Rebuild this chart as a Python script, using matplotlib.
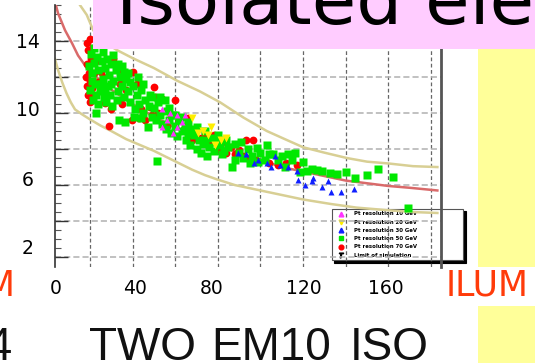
import numpy as np
import matplotlib.pyplot as plt
from matplotlib.lines import Line2D
from matplotlib.patches import Rectangle

# ---- data -------------------------------------------------------------
green_pts = [
    (20.5, 13.3), (22, 12.8), (21, 12.2), (23.5, 13.1), (24, 12.4), (22.5, 11.6), (20, 11.3),
    (25.5, 12.9), (26, 11.9), (24.5, 11.2), (27, 12.5), (28, 13.0), (21.5, 10.7), (23, 10.0),
    (26.5, 10.9), (28.5, 11.5), (29, 12.1), (30, 12.7), (25, 11.6), (27.5, 10.6), (19.5, 12.6),
    (22, 13.6), (29.5, 11.0), (31, 11.8), (32, 12.4), (30.5, 10.4), (33, 11.2), (34, 12.0),
    (32.5, 10.7), (35, 11.5), (36, 10.9), (33.5, 9.6), (36.5, 9.5), (37, 11.9), (38, 11.2),
    (39, 10.6), (40, 11.5), (41, 10.2), (42, 11.0), (43, 10.5), (44, 11.3), (45, 10.0),
    (46, 10.7), (47, 9.2), (47.5, 10.4), (48, 11.0), (49, 9.8), (50, 10.3), (51, 9.6),
    (52, 10.6), (53, 9.9), (54, 9.4), (55, 10.7), (55.5, 9.1), (56, 10.1), (57, 9.6),
    (58, 8.9), (59, 9.9), (60, 9.3), (61, 8.7), (62, 9.6), (63, 9.0), (64.5, 9.3), (65, 8.5),
    (66, 8.9), (67, 8.2), (68, 9.1), (69, 8.8), (70, 8.0), (71, 8.5), (72, 7.8), (73, 8.3),
    (74, 8.5), (75, 7.6), (76, 8.1), (78, 7.9), (79, 8.4), (81, 8.2), (82, 7.7), (83, 7.9),
    (84, 8.5), (86.5, 7.0), (88, 7.4), (90, 7.8), (92, 7.5), (94, 8.0), (96, 7.6), (98.5, 8.05),
    (100, 7.8), (102, 7.4), (104, 7.7), (106, 7.7), (108, 7.4), (111.5, 7.0), (115, 7.4),
    (118.5, 6.7), (121.8, 6.8), (124, 6.9), (126.5, 6.85), (129, 6.8), (132.6, 6.65),
    (136, 6.6), (140, 6.7), (144.5, 6.4), (150, 6.55), (155, 6.9), (162, 6.45), (51.5, 7.35),
    (31, 13.2), (26, 13.4), (23, 11.0), (35, 12.6), (38, 12.2), (40.5, 9.8), (44, 9.7),
    (42.5, 12.0), (21, 11.8), (24, 10.5), (27, 11.3), (30, 11.6), (33, 12.7), (36, 12.3),
    (39, 11.7), (45, 11.6), (49, 10.9), (53, 10.9), (57, 10.3), (60, 9.9), (63, 9.8),
    (66, 9.5), (70, 9.2), (74, 9.0), (77, 8.6), (80, 8.8), (85, 8.1), (88, 8.3), (91, 8.4),
    (95, 7.2), (99, 7.3), (103, 8.2), (110, 7.6), (113, 7.7), (116, 7.8), (120, 7.3),
    (169, 4.75),
]
red_pts = [
    (18.5, 13.9), (20, 14.1), (19, 13.5), (20.5, 13.0), (18.8, 12.7), (19.5, 12.2), (20, 11.8),
    (18.6, 11.5), (19.2, 11.0), (20.5, 10.9), (19.8, 10.6), (21, 11.4), (22, 12.2), (18.2, 12.0),
    (21.5, 13.6), (31, 13.0), (33, 12.4), (40, 12.3), (42, 11.6), (50, 11.45), (54, 10.8),
    (60, 10.7), (29, 9.3), (27, 10.55), (46, 9.6), (50.5, 10.9), (62, 9.6), (25, 12.3),
    (24, 11.7), (23, 12.9), (26, 12.0), (35, 11.8), (37, 11.3), (39.6, 9.6), (44, 10.2),
    (48, 10.35), (49, 9.9), (35, 10.5), (52, 10.0), (56, 9.3), (58, 9.9), (64, 9.1), (66, 9.7),
    (68, 8.5), (72, 8.6), (74, 8.9), (76, 8.4), (78, 8.8), (80, 8.0), (82, 8.4), (84, 7.8),
    (86, 8.1), (88, 7.7), (93, 8.5), (96.5, 8.5), (90, 7.95), (92, 7.6), (95, 7.5), (98, 7.4),
    (104, 7.2), (108, 7.1), (112, 7.2), (117, 7.1), (30, 10.2), (34, 11.6), (43, 9.7),
]
blue_pts = [
    (89.5, 7.8), (93, 7.7), (97, 7.2), (99, 7.4), (103, 7.2), (105, 7.0), (107, 7.6), (109, 7.1),
    (113, 7.0), (117, 6.8), (117.7, 6.3), (121, 6.0), (124, 6.2), (124.6, 6.4), (129, 5.9),
    (131.6, 6.2), (133, 5.6), (138, 5.6), (144, 5.8),
]
yellow_pts = [(68, 9.7), (70.7, 8.9), (73, 9.0), (75.5, 8.8), (78.7, 8.2), (81.5, 8.5),
              (84, 8.6), (77, 9.2)]
magenta_pts = [(54, 10.2), (53.7, 9.2), (56, 9.6), (57.5, 10.0), (59, 8.9), (60.8, 9.9),
               (63, 9.5), (64.6, 9.9), (61, 9.2)]

# fitted resolution curve and the two band edges
fit_x = [4, 5, 8.3, 11.5, 14.4, 16.8, 19, 25, 30, 40, 50, 60, 70, 80, 90, 100, 110, 120,
         130, 140, 150, 160, 170, 183]
fit_y = [16.0, 15.55, 14.6, 13.9, 13.2, 12.8, 12.4, 11.8, 11.3, 10.5, 9.8, 9.2, 8.7, 8.2,
         7.8, 7.4, 7.0, 6.75, 6.5, 6.25, 6.1, 5.95, 5.85, 5.7]
upper_x = [15.3, 18.5, 21.5, 26, 32.6, 40, 50, 60.8, 71.6, 81, 92, 103, 112.4, 120, 130,
           140.6, 150, 160, 171.5, 183]
upper_y = [16.0, 15.45, 14.6, 14.0, 13.5, 13.05, 12.5, 11.8, 11.2, 10.6, 9.75, 9.0, 8.5,
           8.1, 7.8, 7.5, 7.3, 7.2, 7.05, 7.0]
lower_x = [3.6, 5, 7, 9, 11, 13, 16, 20, 25, 30, 37, 44, 50, 56, 62, 68, 74, 80, 88, 96,
           104, 112, 120, 133, 145, 160, 172, 183]
lower_y = [13.0, 12.4, 11.7, 11.1, 10.6, 10.2, 9.95, 9.65, 9.3, 9.0, 8.55, 8.2, 7.9, 7.55,
           7.2, 6.85, 6.55, 6.3, 6.0, 5.8, 5.6, 5.4, 5.2, 4.95, 4.75, 4.6, 4.5, 4.45]

legend_labels = ['Pt resolution 10 GeV', 'Pt resolution 20 GeV', 'Pt resolution 30 GeV',
                 'Pt resolution 50 GeV', 'Pt resolution 70 GeV', 'Limit of simulation']

y_labels = ['14', '10', '6', '2']
x_labels = ['0', '40', '80', '120', '160']
caption_words = ['TWO', 'EM10', 'ISO']

# ---- figure ---------------------------------------------------------------
W, H = 535, 363
fig = plt.figure(figsize=(W / 100, H / 100), dpi=100)
fig.patch.set_facecolor('white')

def fx(px):
    return px / W

def fy(py):
    return 1 - py / H

ax = fig.add_axes([fx(55), fy(267), (441 - 55) / W, (267 - 5) / H])
ax.set_xlim(3.6, 184.7)
ax.set_ylim(1.45, 16.0)

ax.plot(upper_x, upper_y, color='#d8cf94', lw=1.8, zorder=2)
ax.plot(lower_x, lower_y, color='#d8cf94', lw=1.8, zorder=2)
ax.plot(fit_x, fit_y, color='#d96a6a', lw=1.8, zorder=2)

def pts(p):
    a = np.array(p)
    return a[:, 0], a[:, 1]

ax.plot(*pts(red_pts), 'o', color='#ff0000', ms=5.6, mec='none', zorder=3)
ax.plot(*pts(green_pts), 's', color='#00e800', ms=5.4, mec='none', zorder=3.1)
ax.plot(*pts(yellow_pts), 'v', color='#ffee00', ms=5.2, mec='none', zorder=3.2)
ax.plot(*pts(magenta_pts), '^', color='#ff33ff', ms=5.0, mec='none', zorder=3.2)
ax.plot(*pts(blue_pts), '^', color='#1020ff', ms=5.0, mec='none', zorder=3.3)

ax.set_xticks(np.arange(20, 181, 20))
ax.set_yticks(np.arange(2, 15, 2))
ax.set_yticks(np.arange(2, 16.01, 0.5), minor=True)
ax.tick_params(labelbottom=False, labelleft=False, bottom=False)
ax.tick_params(axis='y', which='major', direction='in', length=9, width=1, color='#333')
ax.tick_params(axis='y', which='minor', direction='in', length=4, width=0.8, color='#555')
ax.grid(axis='x', color='#666666', ls=(0, (3, 2)), lw=0.9)
ax.grid(axis='y', color='#b0b0b0', ls=(0, (4, 2)), lw=1.1)
for s in ('top', 'bottom'):
    ax.spines[s].set_visible(False)
ax.spines['left'].set_color('#333')
ax.spines['left'].set_linewidth(1.2)
ax.spines['right'].set_color('#555')
ax.spines['right'].set_linewidth(2)

handles = [
    Line2D([], [], ls='none', marker='^', color='#ff33ff', ms=3.4),
    Line2D([], [], ls='none', marker='v', color='#ffee00', ms=3.4),
    Line2D([], [], ls='none', marker='^', color='#1020ff', ms=3.4),
    Line2D([], [], ls='none', marker='s', color='#00e800', ms=3.4),
    Line2D([], [], ls='none', marker='o', color='#ff0000', ms=3.4),
    Line2D([], [], ls='none', marker='$T$', color='k', ms=3.4),
]
leg = ax.legend(handles, legend_labels, loc='upper left',
                bbox_to_anchor=(fx(329), fy(206), (466 - 329) / W, 0),
                bbox_transform=fig.transFigure, mode='expand',
                prop={'size': 3.9, 'weight': 'bold'}, fancybox=False,
                edgecolor='#555', framealpha=1, shadow={'color': 'k', 'alpha': 1},
                borderpad=0.5, labelspacing=0.6, handlelength=2.5, handletextpad=1.2)
leg.get_frame().set_linewidth(0.8)
leg.set_zorder(1.2)

# ---- slide decorations ----------------------------------------------------
fig.add_artist(Rectangle((fx(93), fy(49)), 1 - fx(93), 49 / H, transform=fig.transFigure,
                         facecolor='#ffccff', edgecolor='none', zorder=3))
fig.add_artist(Rectangle((fx(478), fy(267)), 1 - fx(478), (267 - 49) / H,
                         transform=fig.transFigure, facecolor='#ffff99', edgecolor='none',
                         zorder=3))
fig.add_artist(Rectangle((fx(478), 0), 1 - fx(478), (363 - 306) / H,
                         transform=fig.transFigure, facecolor='#ffff99', edgecolor='none',
                         zorder=3))

fig.text(fx(116), fy(24), 'Isolated electrons', fontsize=52, va='baseline', ha='left',
         color='black', zorder=4)

for lab, py in zip(y_labels, [42, 111, 180, 248]):
    fig.text(fx(28), fy(py), lab, ha='center', va='center', fontsize=13.5, zorder=4)
for lab, px in zip(x_labels, [56, 135, 212, 304, 386]):
    fig.text(fx(px), fy(289), lab, ha='center', va='center', fontsize=13.5, zorder=4)

fig.text(fx(446), fy(286), 'ILUM', color='#ff3b0a', fontsize=25, ha='left', va='center',
         zorder=4)
fig.text(fx(15), fy(286), 'ILUM', color='#ff3b0a', fontsize=25, ha='right', va='center',
         zorder=4)

for word, px in zip(caption_words, [89, 211, 350]):
    fig.text(fx(px), fy(360), word, family='Liberation Sans', fontsize=33,
             color='#111111', va='baseline', ha='left', zorder=4)
fig.text(fx(13), fy(360), 'EM4', family='Liberation Sans', fontsize=33,
         color='#111111', va='baseline', ha='right', zorder=4)

fig.savefig('out.png', dpi=100)
